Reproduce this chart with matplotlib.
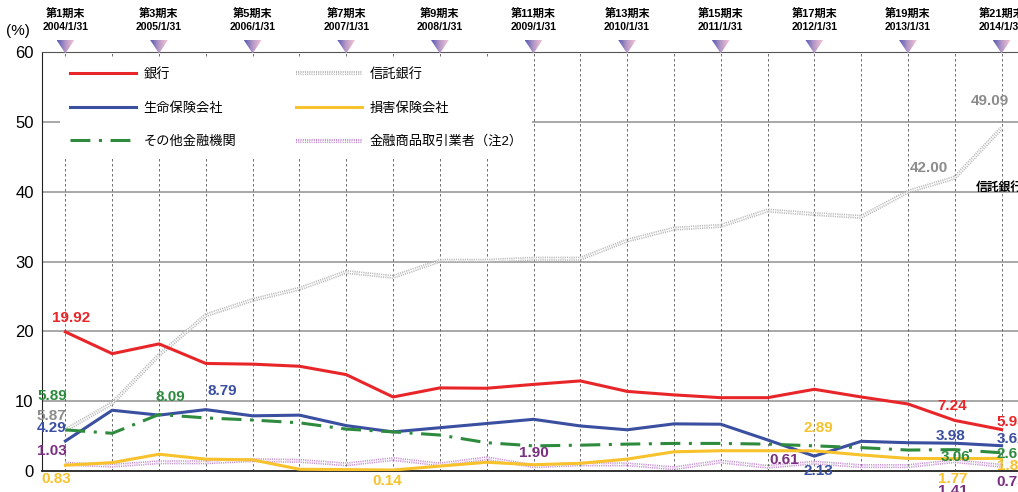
import matplotlib
matplotlib.use("Agg")
import matplotlib.pyplot as plt
import matplotlib.patheffects as pe
from matplotlib.colors import LinearSegmentedColormap
from matplotlib.patches import Polygon
import numpy as np

plt.rcParams['font.family'] = ['Liberation Sans', 'Noto Sans CJK JP', 'DejaVu Sans']

periods = list(range(1, 22))
bank = [19.92, 16.8, 18.2, 15.4, 15.3, 15.0, 13.8, 10.6, 11.9, 11.85, 12.4,
        12.9, 11.4, 10.9, 10.5, 10.5, 11.7, 10.6, 9.6, 7.24, 5.93]
trust = [5.87, 9.7, 16.6, 22.3, 24.5, 26.1, 28.5, 27.8, 30.1, 30.1, 30.4,
         30.4, 33.0, 34.7, 35.1, 37.3, 36.8, 36.4, 40.0, 42.00, 49.09]
life = [4.29, 8.7, 8.0, 8.79, 7.9, 8.0, 6.5, 5.6, 6.2, 6.8, 7.4,
        6.45, 5.9, 6.75, 6.7, 4.45, 2.13, 4.25, 4.05, 3.98, 3.62]
nonlife = [0.83, 1.2, 2.4, 1.7, 1.6, 0.25, 0.2, 0.14, 0.7, 1.25, 0.9,
           1.1, 1.7, 2.75, 2.9, 2.9, 2.89, 2.3, 1.8, 1.77, 1.81]
other = [5.89, 5.4, 8.09, 7.6, 7.3, 6.9, 6.0, 5.6, 5.15, 4.05, 3.6,
         3.7, 3.85, 3.95, 3.95, 3.85, 3.6, 3.35, 3.0, 3.06, 2.61]
securities = [1.03, 0.77, 1.25, 1.25, 1.55, 1.45, 0.95, 1.7, 0.95, 1.82, 0.7,
              0.95, 0.95, 0.4, 1.35, 0.61, 1.2, 0.7, 0.7, 1.41, 0.75]

top_periods = [1, 3, 5, 7, 9, 11, 13, 15, 17, 19, 21]
top_names = ["第%d期末" % p for p in top_periods]
top_dates = ["%d/1/31" % y for y in range(2004, 2015)]

C_RED = "#e8262a"
C_GRAY = "#b8b8b8"
C_BLUE = "#3a4fa0"
C_YEL = "#f7c22b"
C_GREEN = "#2e8b3e"
C_PURP = "#c48fd2"

fig = plt.figure(figsize=(10.18, 4.92), dpi=100)
ax = fig.add_axes([42 / 1018, 21 / 492, 983 / 1018, 419 / 492])
ax.set_xlim(0.5, 21.5)
ax.set_ylim(0, 60)

# grid
for y in range(10, 60, 10):
    ax.axhline(y, color="#9a9a9a", lw=1.2, zorder=1)
for p in periods:
    ax.axvline(p, color="#555555", lw=0.6, ls=(0, (3, 3)), zorder=1)

ax.set_yticks(range(0, 61, 10))
ax.set_xticks([])
ax.tick_params(axis="y", length=0, labelsize=12, pad=6)
ax.spines["right"].set_visible(False)
ax.spines["top"].set_color("#555555")
ax.spines["left"].set_color("#222222")
ax.spines["bottom"].set_color("#222222")
ax.spines["bottom"].set_linewidth(1.3)

ax.plot(periods, bank, color=C_RED, lw=2.2, label="銀行", zorder=4)
ax.plot(periods, life, color=C_BLUE, lw=2.2, label="生命保険会社", zorder=4)
ax.plot(periods, other, color=C_GREEN, lw=2.2, ls=(0, (6.5, 2.8, 1, 2.8)),
        label="その他金融機関", zorder=4)
ax.plot(periods, trust, color="white", lw=0.8, ls=(0, (1, 1)), label="信託銀行",
        path_effects=[pe.Stroke(linewidth=3, foreground=C_GRAY), pe.Normal()], zorder=3)
ax.plot(periods, nonlife, color=C_YEL, lw=2.2, label="損害保険会社", zorder=4)
ax.plot(periods, securities, color="white", lw=0.8, ls=(0, (1, 1)),
        label="金融商品取引業者（注2）",
        path_effects=[pe.Stroke(linewidth=3, foreground=C_PURP), pe.Normal()], zorder=3)

leg = ax.legend(loc="upper left", bbox_to_anchor=(0.012, 1.0), ncol=2,
                fontsize=9.5, handlelength=5, labelspacing=1.6,
                columnspacing=4.5, handletextpad=0.6, borderpad=0.7,
                frameon=True, facecolor="white", edgecolor="none",
                framealpha=1, fancybox=False)
leg.set_zorder(5)

# value labels: (series, index, text, color, dx px, dy px)
L_RED, L_GRAY, L_BLUE = C_RED, "#8c8c8c", C_BLUE
L_GREEN, L_PURP, L_YEL = C_GREEN, "#7b2f80", C_YEL
labels = [
    (bank, 0, "19.92", L_RED, 6, 14),
    (other, 0, "5.89", L_GREEN, -13, 34),
    (trust, 0, "5.87", L_GRAY, -14, 14),
    (life, 0, "4.29", L_BLUE, -14, 13),
    (securities, 0, "1.03", L_PURP, -14, 13),
    (nonlife, 0, "0.83", L_YEL, -9, -14),
    (other, 2, "8.09", L_GREEN, 11, 18),
    (life, 3, "8.79", L_BLUE, 16, 19),
    (nonlife, 7, "0.14", L_YEL, -6, -11),
    (securities, 10, "1.90", L_PURP, 0, 13),
    (nonlife, 16, "2.89", L_YEL, 4, 23),
    (securities, 15, "0.61", L_PURP, 17, 7),
    (life, 16, "2.13", L_BLUE, 4, -15),
    (bank, 19, "7.24", L_RED, -3, 14),
    (life, 19, "3.98", L_BLUE, -4, 7),
    (other, 19, "3.06", L_GREEN, 1, -7),
    (nonlife, 19, "1.77", L_YEL, -2, -20),
    (securities, 19, "1.41", L_PURP, -2, -30),
    (trust, 19, "42.00", L_GRAY, -26, 10),
    (trust, 20, "49.09", L_GRAY, -12, 27),
    (bank, 20, "5.93", L_RED, 10, 8),
    (life, 20, "3.62", L_BLUE, 10, 7),
    (other, 20, "2.61", L_GREEN, 10, -1),
    (nonlife, 20, "1.81", L_YEL, 10, -8),
    (securities, 20, "0.75", L_PURP, 10, -16),
]
for series, i, txt, col, dx, dy in labels:
    ax.annotate(txt, (periods[i], series[i]), xytext=(dx, dy),
                textcoords="offset pixels", ha="center", va="center",
                color=col, fontsize=11, fontweight="bold", zorder=6,
                annotation_clip=False)

ax.text(20.44, 40.5, "信託銀行", fontsize=8.5, fontweight="bold", ha="left",
        va="center", color="black", zorder=6)

# top period labels
for p, name, date in zip(top_periods, top_names, top_dates):
    ax.text(p, 65.45, name, ha="center", va="center", fontsize=8,
            fontweight="bold", clip_on=False)
    ax.text(p, 63.6, date, ha="center", va="center", fontsize=7.5,
            fontweight="bold", clip_on=False)

# gradient triangles above the plot
tax = fig.add_axes([42 / 1018, 1 - 56 / 492, 983 / 1018, 18 / 492])
tax.set_xlim(0.5, 21.5)
tax.set_ylim(0, 18)
tax.axis("off")
cmap = LinearSegmentedColormap.from_list("tri", ["#5558b0", "#b89ac8", "#f6c6d2"])
grad = np.linspace(0, 1, 64).reshape(1, -1)
for p in top_periods:
    w = 0.19
    tri = Polygon([(p - w, 16), (p + w, 16), (p, 2.5)], closed=True,
                  transform=tax.transData, facecolor="none", edgecolor="none")
    tax.add_patch(tri)
    im = tax.imshow(grad, cmap=cmap, extent=(p - w, p + w, 2.5, 16),
                    aspect="auto", interpolation="bilinear")
    im.set_clip_path(tri)
tax.set_xlim(0.5, 21.5)
tax.set_ylim(0, 18)

fig.text(18 / 1018, 1 - 31 / 492, "(%)", ha="center", va="center", fontsize=11)

fig.savefig("out.png", dpi=100)
